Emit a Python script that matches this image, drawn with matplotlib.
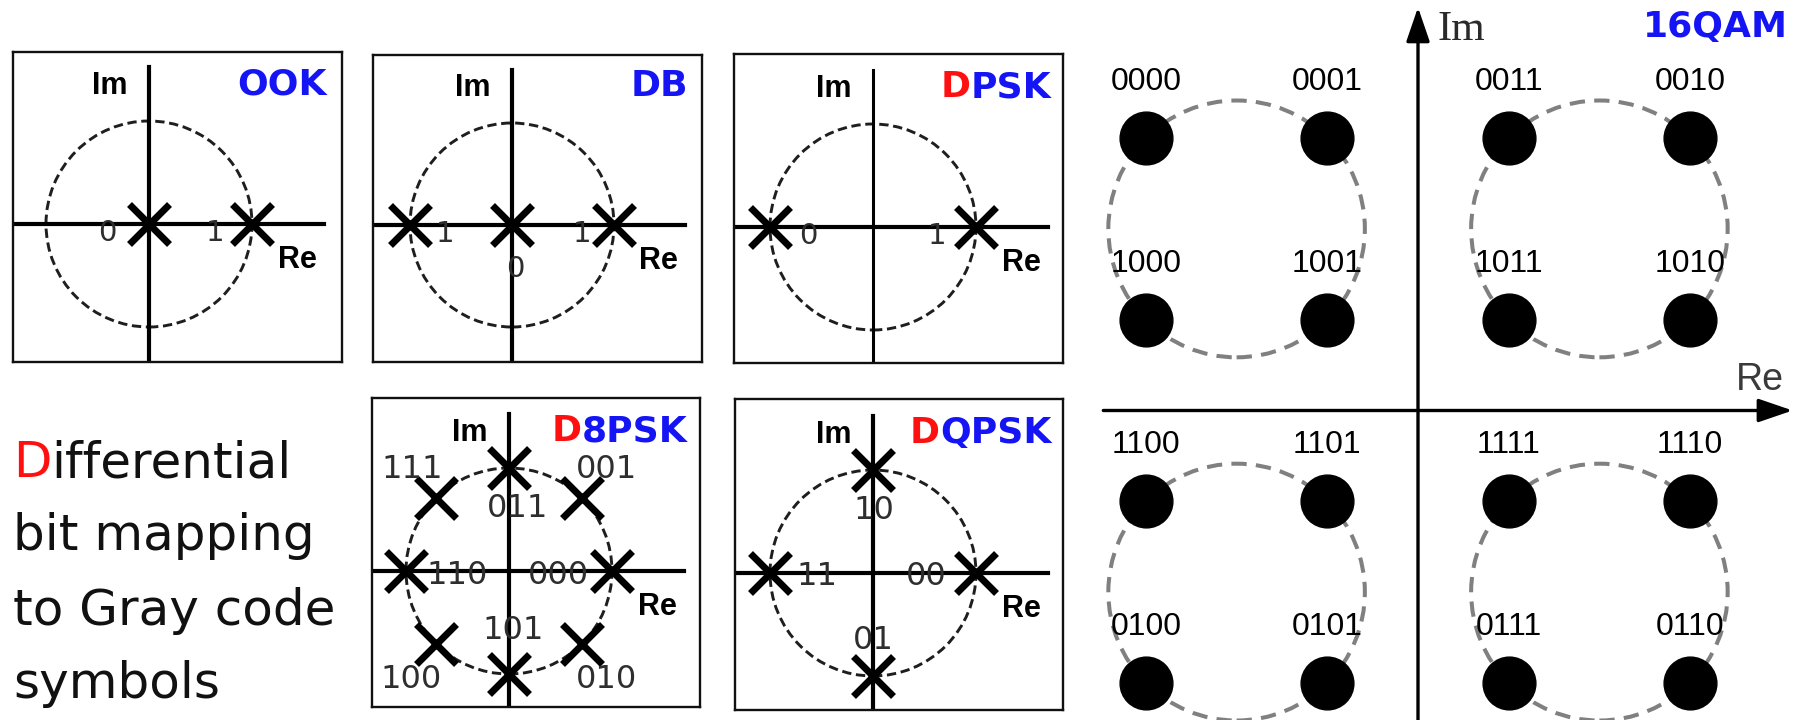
import numpy as np
import matplotlib.pyplot as plt
from matplotlib.patches import Circle
from matplotlib.text import Annotation

# ---- symbol data -------------------------------------------------------
ook_re = [0, 1]
ook_im = [0, 0]
ook_bits = ['0', '1']

db_re = [-1, 0, 1]
db_im = [0, 0, 0]
db_bits = ['1', '0', '1']

dpsk_re = [-1, 1]
dpsk_im = [0, 0]
dpsk_bits = ['0', '1']

d8psk_angles = [0, 45, 90, 135, 180, 225, 270, 315]
d8psk_bits = ['000', '001', '011', '111', '110', '100', '101', '010']

dqpsk_angles = [0, 90, 180, 270]
dqpsk_bits = ['00', '10', '11', '01']

qam_i = [-3, -1, 1, 3]
qam_q = [3, 1, -1, -3]
qam_bits = [['0000', '0001', '0011', '0010'],
            ['1000', '1001', '1011', '1010'],
            ['1100', '1101', '1111', '1110'],
            ['0100', '0101', '0111', '0110']]

caption_lines = ['ifferential', 'bit mapping', 'to Gray code', 'symbols']

# ---- layout helpers ----------------------------------------------------
W, H = 1794, 720
fig = plt.figure(figsize=(W / 100, H / 100), dpi=100)
BLUE = '#1414f5'
RED = '#ff1010'


def px_axes(left, top, right, bottom):
    return fig.add_axes([left / W, 1 - bottom / H, (right - left) / W, (bottom - top) / H])


def title_pieces(ax, x, y, pieces, size):
    # right-aligned, multi-coloured title built from the right end
    prev = None
    for txt, col in reversed(pieces):
        kw = dict(ha='right', fontsize=size, color=col, fontweight='bold', family='DejaVu Sans')
        if prev is None:
            prev = ax.text(x, y, txt, va='baseline', **kw)
        else:
            prev = ax.annotate(txt, xy=(0, 0), xycoords=prev, va='bottom', **kw)


def phasor_panel(box, centre, radius, re, im, bits, offsets, title,
                 lw_v=3.0, label_size=21):
    left, top, right, bottom = box
    cx, cy = centre
    ax = px_axes(*box)
    ax.set_xlim((left - cx) / radius, (right - cx) / radius)
    ax.set_ylim((cy - bottom) / radius, (cy - top) / radius)
    ax.set_xticks([])
    ax.set_yticks([])
    for sp in ax.spines.values():
        sp.set_linewidth(1.7)
        sp.set_color('#111111')

    ax.add_patch(Circle((0, 0), 1, fill=False, ls=(0, (3.2, 1.6)), lw=2.1, ec='#1e1e1e'))
    ax.plot([-1.45, 1.70], [0, 0], color='black', lw=3.0)
    ax.plot([0, 0], [1.52, -1.6], color='black', lw=lw_v)
    ax.plot(re, im, 'x', ms=29, mew=5.0, color='black', zorder=5)

    for x, y, b, (dx, dy) in zip(re, im, bits, offsets):
        ax.text(x + dx, y + dy, b, ha='center', va='center_baseline',
                fontsize=label_size, color='#2e2e2e', family='DejaVu Sans', zorder=6)

    ax.text(-0.38, 1.26, 'Im', ha='center', va='baseline', fontsize=22,
            fontweight='bold', family='Liberation Sans')
    ax.text(1.44, -0.43, 'Re', ha='center', va='baseline', fontsize=22,
            fontweight='bold', family='Liberation Sans')
    title_pieces(ax, 1.73, 1.26, title, 26)
    return ax


# ---- top row: OOK, DB, DPSK --------------------------------------------
phasor_panel((13, 52, 342, 362), (149, 224), 103, ook_re, ook_im, ook_bits,
             [(-0.40, -0.06), (-0.36, -0.06)], [('OOK', BLUE)])
phasor_panel((373, 55, 702, 362), (512, 225), 102, db_re, db_im, db_bits,
             [(0.34, -0.06), (0.03, -0.40), (-0.31, -0.06)], [('DB', BLUE)])
phasor_panel((734, 54, 1063, 363), (873, 227), 103, dpsk_re, dpsk_im, dpsk_bits,
             [(0.37, -0.06), (-0.38, -0.06)], [('D', RED), ('PSK', BLUE)], lw_v=2.2)

# ---- bottom row: D8PSK, DQPSK ------------------------------------------
a8 = np.deg2rad(d8psk_angles)
phasor_panel((372, 398, 700, 707), (509, 571), 103, np.cos(a8), np.sin(a8), d8psk_bits,
             [(-0.52, -0.01), (0.24, 0.31), (0.08, -0.36), (-0.23, 0.31),
              (0.50, -0.01), (-0.24, -0.31), (0.04, 0.46), (0.24, -0.31)],
             [('D', RED), ('8PSK', BLUE)], label_size=23)

a4 = np.deg2rad(dqpsk_angles)
phasor_panel((735, 399, 1063, 710), (873, 573), 103, np.cos(a4), np.sin(a4), dqpsk_bits,
             [(-0.48, 0.0), (0.01, -0.36), (0.46, 0.0), (0.0, 0.38)],
             [('D', RED), ('QPSK', BLUE)], label_size=23)

# ---- caption -------------------------------------------------------------
baselines = [477, 550, 625, 698]
cap_kw = dict(fontsize=36, family='DejaVu Sans', ha='left')
first = fig.text(13 / W, 1 - baselines[0] / H, 'D', color=RED, va='baseline', **cap_kw)
fig.add_artist(Annotation(caption_lines[0], xy=(1, 0), xycoords=first, va='bottom',
                          color='#111111', **cap_kw))
for line, b in zip(caption_lines[1:], baselines[1:]):
    fig.text(13 / W, 1 - b / H, line, color='#111111', va='baseline', **cap_kw)

# ---- 16QAM constellation ------------------------------------------------
ax = px_axes(1090, 0, 1794, 720)
ax.axis('off')
ox, oy, sx, sy = 1418, 410.5, 90.7, 90.8
ax.set_xlim((1090 - ox) / sx, (1794 - ox) / sx)
ax.set_ylim((oy - 720) / sy, (oy - 0) / sy)

I, Q = np.meshgrid(qam_i, qam_q)
bits = np.array(qam_bits)

# dashed rings through the four points of each quadrant
for qx in (1, -1):
    for qy in (1, -1):
        sel = (np.sign(I) == qx) & (np.sign(Q) == qy)
        mx, my = I[sel].mean(), Q[sel].mean()
        rad = np.hypot(I[sel] - mx, Q[sel] - my).mean()
        ax.add_patch(Circle((mx, my), rad, fill=False, ec='#808080', lw=2.9,
                            ls=(0, (3.8, 2.3)), zorder=1))

ax.plot(I.ravel(), Q.ravel(), 'o', ms=38, color='black', zorder=3)
for i, q, b in zip(I.ravel(), Q.ravel(), bits.ravel()):
    ax.text(i, q + 0.53, b, ha='center', va='baseline', fontsize=23,
            family='Liberation Sans', color='black', zorder=4)

arrow = dict(arrowstyle='-|>,head_length=1.05,head_width=0.36', lw=2.4,
             color='black', shrinkA=0, shrinkB=0, mutation_scale=20)
ax.annotate('', xy=(4.13, 0), xytext=(-3.47, 0), arrowprops=arrow, annotation_clip=False)
ax.annotate('', xy=(0, 4.44), xytext=(0, -3.6), arrowprops=arrow, annotation_clip=False)

ax.text(0.22, 4.08, 'Im', ha='left', va='baseline', fontsize=31,
        family='Liberation Serif', color='#2a2a2a')
ax.text(3.50, 0.23, 'Re', ha='left', va='baseline', fontsize=27,
        family='Liberation Sans', color='#3a3a3a')
ax.text(4.08, 4.11, '16QAM', ha='right', va='baseline', fontsize=26,
        fontweight='bold', family='DejaVu Sans', color=BLUE)

fig.savefig('out.png', dpi=100, facecolor='white')
